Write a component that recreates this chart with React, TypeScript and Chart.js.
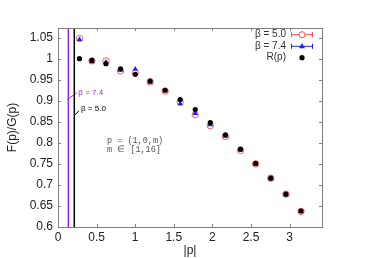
import React, { useEffect, useRef } from "react";
import { Chart, registerables } from "chart.js";

Chart.register(...registerables);

const momenta = [0.278, 0.439, 0.621, 0.810, 1.001, 1.194, 1.388, 1.583, 1.778, 1.973, 2.169, 2.364, 2.560, 2.756, 2.952, 3.148];
const ratioR = [1.000, 0.996, 0.988, 0.976, 0.963, 0.947, 0.925, 0.903, 0.879, 0.848, 0.819, 0.785, 0.751, 0.716, 0.678, 0.638];
const beta50 = [1.048, 0.995, 0.995, 0.971, 0.967, 0.945, 0.923, 0.897, 0.867, 0.841, 0.815, 0.782, 0.750, 0.716, 0.678, 0.637];
const beta74 = [1.046, 0.993, 0.992, 0.973, 0.975, 0.944, 0.924, 0.893, 0.870, 0.843, 0.816, 0.783, 0.750, 0.715, 0.677, 0.637];
const xTicks = [0, 0.5, 1, 1.5, 2, 2.5, 3];
const yTicks = [0.6, 0.65, 0.7, 0.75, 0.8, 0.85, 0.9, 0.95, 1, 1.05];
const cutoffs = [
  { value: 0.134, label: "β = 7.4", color: "#a020f0", lead: [0.121, 0.903, 0.243, 0.919], text: [0.263, 0.92] },
  { value: 0.211, label: "β = 5.0", color: "#000000", lead: [0.22, 0.867, 0.272, 0.876], text: [0.298, 0.881] },
];
const legendItems = [
  { label: "β = 5.0", color: "#ff4d4d", kind: "circle" },
  { label: "β = 7.4", color: "#1f1fff", kind: "triangle" },
  { label: "R(p)", color: "#000000", kind: "dot" },
];
const noteLines = ["p = (1,0,m)", "m ∈ [1,16]"];

const toPts = (ys: number[]) => ys.map((y, i) => ({ x: momenta[i], y }));

export default function App() {
  const ref = useRef<HTMLCanvasElement>(null);
  useEffect(() => {
    const frame = "#808080";
    const plugin = {
      id: "decor",
      beforeDatasetsDraw(chart: any) {
        const { ctx, chartArea: a, scales } = chart;
        const xs = scales.x, ys = scales.y;
        ctx.save();
        cutoffs.forEach((c) => {
          const px = xs.getPixelForValue(c.value);
          ctx.strokeStyle = c.color;
          ctx.lineWidth = 1.5;
          ctx.beginPath();
          ctx.moveTo(px, a.top);
          ctx.lineTo(px, a.bottom);
          ctx.stroke();
          ctx.lineWidth = 1;
          ctx.beginPath();
          ctx.moveTo(xs.getPixelForValue(c.lead[0]), ys.getPixelForValue(c.lead[1]));
          ctx.lineTo(xs.getPixelForValue(c.lead[2]), ys.getPixelForValue(c.lead[3]));
          ctx.stroke();
          ctx.fillStyle = c.color;
          ctx.font = "8px 'Liberation Sans'";
          ctx.textAlign = "left";
          ctx.textBaseline = "middle";
          ctx.fillText(c.label, xs.getPixelForValue(c.text[0]), ys.getPixelForValue(c.text[1]));
        });
        ctx.fillStyle = "#555";
        ctx.font = "8.5px 'Liberation Mono'";
        ctx.textAlign = "left";
        ctx.textBaseline = "middle";
        noteLines.forEach((t, i) => ctx.fillText(t, 107, 141 + i * 9));
        ctx.restore();
      },
      afterDraw(chart: any) {
        const { ctx, chartArea: a, scales } = chart;
        const xs = scales.x, ys = scales.y;
        ctx.save();
        ctx.strokeStyle = frame;
        ctx.lineWidth = 1;
        ctx.strokeRect(Math.round(a.left) + 0.5, Math.round(a.top) + 0.5, Math.round(a.right - a.left), Math.round(a.bottom - a.top));
        ctx.beginPath();
        xTicks.forEach((v) => {
          const px = Math.round(xs.getPixelForValue(v)) + 0.5;
          ctx.moveTo(px, a.bottom); ctx.lineTo(px, a.bottom - 3);
          ctx.moveTo(px, a.top); ctx.lineTo(px, a.top + 3);
        });
        yTicks.forEach((v) => {
          const py = Math.round(ys.getPixelForValue(v)) + 0.5;
          ctx.moveTo(a.left, py); ctx.lineTo(a.left + 3, py);
          ctx.moveTo(a.right, py); ctx.lineTo(a.right - 3, py);
        });
        ctx.stroke();
        const rows = [34.7, 46.3, 57.7];
        ctx.font = "10px 'Liberation Sans'";
        ctx.textAlign = "right";
        ctx.textBaseline = "middle";
        legendItems.forEach((it, i) => {
          const y = rows[i];
          ctx.fillStyle = "#333";
          ctx.fillText(it.label, 286, y);
          const cx = 302;
          if (it.kind !== "dot") {
            ctx.strokeStyle = it.color;
            ctx.lineWidth = 1;
            ctx.beginPath();
            ctx.moveTo(291, y); ctx.lineTo(313, y);
            ctx.moveTo(291.5, y - 2.5); ctx.lineTo(291.5, y + 2.5);
            ctx.moveTo(312.5, y - 2.5); ctx.lineTo(312.5, y + 2.5);
            ctx.stroke();
          }
          if (it.kind === "circle") {
            ctx.fillStyle = "#fff";
            ctx.beginPath(); ctx.arc(cx, y, 3, 0, Math.PI * 2); ctx.fill(); ctx.stroke();
          } else if (it.kind === "triangle") {
            ctx.fillStyle = it.color;
            ctx.beginPath(); ctx.moveTo(cx, y - 3.2); ctx.lineTo(cx + 3, y + 2); ctx.lineTo(cx - 3, y + 2); ctx.closePath(); ctx.fill();
          } else {
            ctx.fillStyle = it.color;
            ctx.beginPath(); ctx.arc(cx, y, 2.6, 0, Math.PI * 2); ctx.fill();
          }
        });
        ctx.restore();
      },
    };

    const chart = new Chart(ref.current!, {
      type: "scatter",
      data: {
        datasets: [
          { label: "R(p)", data: toPts(ratioR), pointStyle: "circle", pointRadius: 2.6, backgroundColor: "#000", borderColor: "#000", borderWidth: 0, order: 0 },
          { label: "β = 7.4", data: toPts(beta74), pointStyle: "triangle", pointRadius: 3.2, backgroundColor: "#1f1fff", borderColor: "#1f1fff", borderWidth: 0, order: 1 },
          { label: "β = 5.0", data: toPts(beta50), pointStyle: "circle", pointRadius: 3.2, backgroundColor: "rgba(255,255,255,0)", borderColor: "#ff5a5a", borderWidth: 1, order: 2 },
        ],
      },
      options: {
        animation: false,
        responsive: false,
        layout: { padding: { left: 0, top: 28, right: 44, bottom: 0 } },
        plugins: { legend: { display: false }, tooltip: { enabled: false } },
        scales: {
          x: {
            type: "linear",
            min: 0,
            max: 3.42,
            grid: { display: false, drawTicks: false },
            border: { display: false },
            afterBuildTicks: (s: any) => { s.ticks = xTicks.map((v) => ({ value: v })); },
            afterFit: (s: any) => { s.height = 31; },
            ticks: { padding: 3, color: "#222", font: { family: "'Liberation Sans'", size: 12 }, maxRotation: 0, callback: (v: any) => String(Number(Number(v).toFixed(2))) },
            title: { display: true, text: "|p|", color: "#222", font: { family: "'Liberation Sans'", size: 12 }, padding: { top: 1, bottom: 0 } },
          },
          y: {
            type: "linear",
            min: 0.6,
            max: 1.073,
            grid: { display: false, drawTicks: false },
            border: { display: false },
            afterBuildTicks: (s: any) => { s.ticks = yTicks.map((v) => ({ value: v })); },
            afterFit: (s: any) => { s.width = 58; },
            ticks: { padding: 5, color: "#222", font: { family: "'Liberation Sans'", size: 12 }, callback: (v: any) => String(Number(Number(v).toFixed(2))) },
            title: { display: true, text: "F(p)/G(p)", color: "#222", font: { family: "'Liberation Sans'", size: 12 }, padding: { top: 5, bottom: 0 } },
          },
        },
      },
      plugins: [plugin],
    });
    return () => chart.destroy();
  }, []);
  return (
    <div style={{ position: "absolute", left: 0, top: 0, width: 366, height: 258, background: "#fff" }}>
      <canvas ref={ref} width={366} height={258} />
    </div>
  );
}
